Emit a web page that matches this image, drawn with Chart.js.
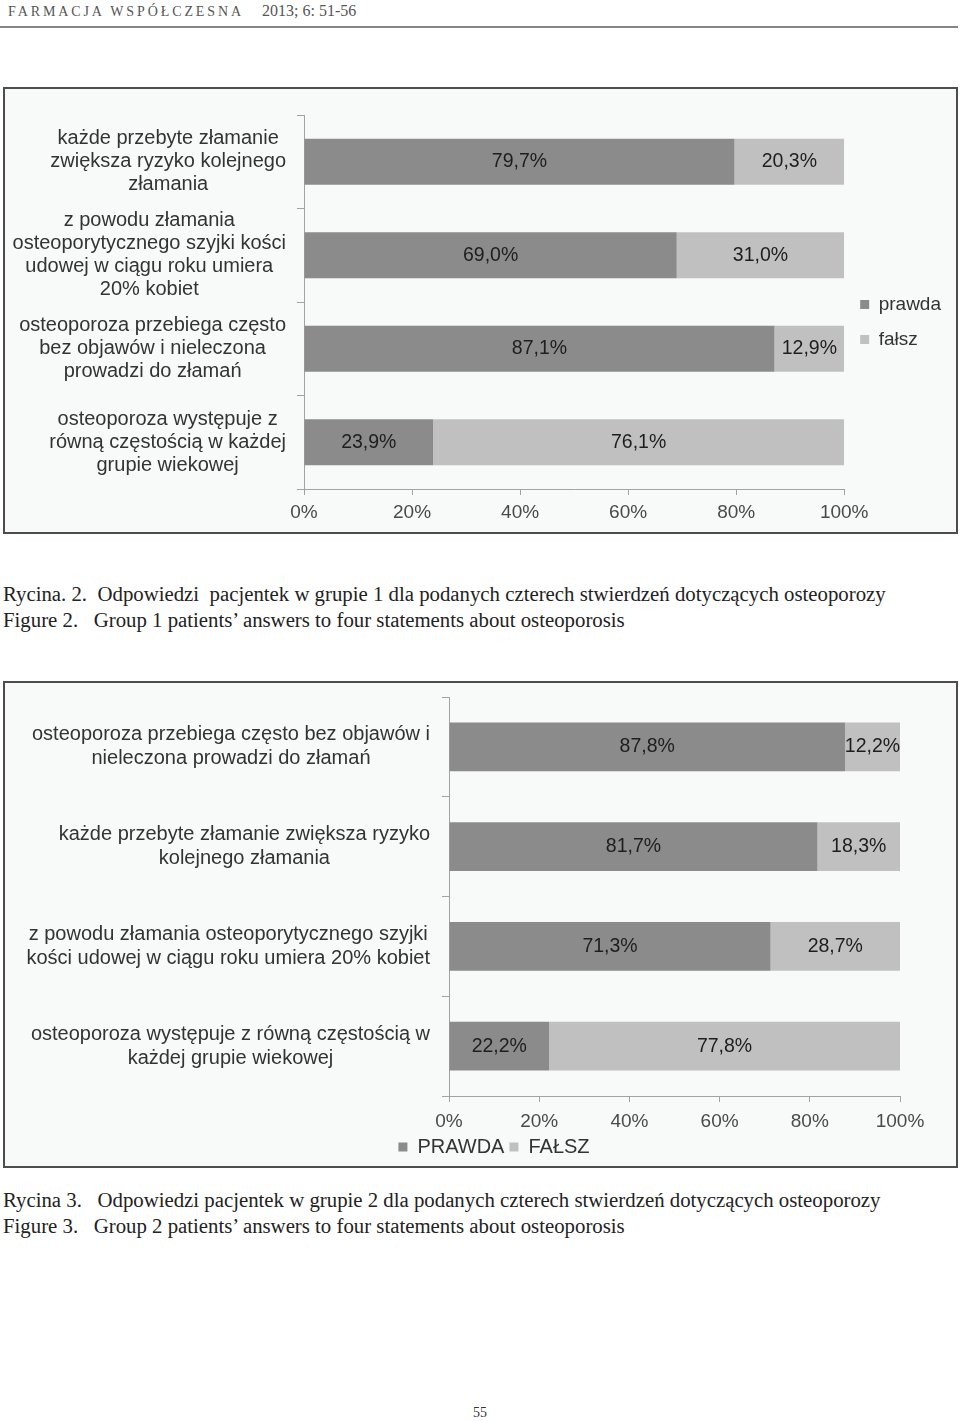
<!DOCTYPE html>
<html lang="pl">
<head>
<meta charset="utf-8">
<script src="https://cdn.jsdelivr.net/npm/chart.js@4.4.0/dist/chart.umd.min.js"></script>
<style>
  body { margin: 0; width: 960px; height: 1421px; background: #fff; position: relative; font-family: "Liberation Serif", "DejaVu Serif", serif; }
  .header { position: absolute; left: 8px; top: 2px; font-size: 16px; color: #555; white-space: pre; }
  .header .caps { letter-spacing: 2.9px; font-size: 14px; margin-right: 18px; }
  .rule { position: absolute; left: 0; top: 26px; width: 958px; height: 2px; background: #858585; }
  .box { position: absolute; left: 3px; width: 955px; box-sizing: border-box; border: 2px solid #4d4d4d; background: #f8f9f9; }
  .box .wrap { position: relative; width: 951px; }
  .cap { position: absolute; left: 3px; font-size: 20.8px; color: #222; white-space: pre; line-height: 1; }
  .page { position: absolute; left: 0; width: 960px; top: 1405px; text-align: center; font-size: 14px; color: #333; }
</style>
</head>
<body>
<div class="header"><span class="caps">FARMACJA WSPÓŁCZESNA</span>2013; 6: 51-56</div>
<div class="rule"></div>

<div class="box" style="top:87px;height:447px;"><div class="wrap" style="height:443px;"><canvas id="group1Chart"></canvas></div></div>
<div class="cap" style="top:584px;">Rycina. 2.  Odpowiedzi  pacjentek w grupie 1 dla podanych czterech stwierdzeń dotyczących osteoporozy</div>
<div class="cap" style="top:610px;">Figure 2.   Group 1 patients’ answers to four statements about osteoporosis</div>

<div class="box" style="top:681px;height:487px;"><div class="wrap" style="height:483px;"><canvas id="group2Chart"></canvas></div></div>
<div class="cap" style="top:1190px;">Rycina 3.   Odpowiedzi pacjentek w grupie 2 dla podanych czterech stwierdzeń dotyczących osteoporozy</div>
<div class="cap" style="top:1216px;">Figure 3.   Group 2 patients’ answers to four statements about osteoporosis</div>

<div class="page">55</div>

<script>
// group 1 (Rycina 2)
const group1Labels = [
    ["każde przebyte złamanie", "zwiększa ryzyko kolejnego", "złamania"],
    ["z powodu złamania", "osteoporytycznego szyjki kości", "udowej w ciągu roku umiera", "20% kobiet"],
    ["osteoporoza przebiega często", "bez objawów i nieleczona", "prowadzi do złamań"],
    ["osteoporoza występuje z", "równą częstością w każdej", "grupie wiekowej"],
];
const group1True = [79.7, 69.0, 87.1, 23.9];
const group1False = [20.3, 31.0, 12.9, 76.1];
const group1Series = ["prawda", "fałsz"];

// group 2 (Rycina 3)
const group2Labels = [
    ["osteoporoza przebiega często bez objawów i", "nieleczona prowadzi do złamań"],
    ["każde przebyte złamanie zwiększa ryzyko", "kolejnego złamania"],
    ["z powodu złamania osteoporytycznego szyjki", "kości udowej w ciągu roku umiera 20% kobiet"],
    ["osteoporoza występuje z równą częstością w", "każdej grupie wiekowej"],
];
const group2True = [87.8, 81.7, 71.3, 22.2];
const group2False = [12.2, 18.3, 28.7, 77.8];
const group2Series = ["PRAWDA", "FAŁSZ"];

const percentTicks = ["0%", "20%", "40%", "60%", "80%", "100%"];

const COLORS = { dark: "#8b8b8b", light: "#c0c0c0", axis: "#a3a3a3", text: "#2b2b2b" };
const SANS = "'Liberation Sans', Arial, sans-serif";

Chart.defaults.font.family = SANS;
Chart.defaults.color = COLORS.text;

// value inside each bar segment, centred
const valueLabels = {
    id: "valueLabels",
    afterDatasetsDraw(chart) {
        const ctx = chart.ctx;
        ctx.save();
        ctx.font = "19.5px " + SANS;
        ctx.fillStyle = "#1e1e1e";
        ctx.textAlign = "center";
        ctx.textBaseline = "middle";
        chart.data.datasets.forEach((ds, di) => {
            chart.getDatasetMeta(di).data.forEach((bar, i) => {
                const { x, y, base } = bar.getProps(["x", "y", "base"], true);
                ctx.fillText(ds.data[i].toFixed(1).replace(".", ",") + "%", (x + base) / 2, y);
            });
        });
        ctx.restore();
    },
};

// multi-line category names, block right-aligned, lines centred (Excel style)
const categoryLabels = {
    id: "categoryLabels",
    afterDraw(chart, args, opts) {
        const scale = chart.scales.y;
        const ctx = chart.ctx;
        ctx.save();
        ctx.font = opts.font;
        ctx.fillStyle = "#333";
        ctx.textAlign = "center";
        ctx.textBaseline = "middle";
        chart.data.labels.forEach((lines, i) => {
            const w = Math.max(...lines.map((l) => ctx.measureText(l).width));
            const cx = scale.right - opts.gap - w / 2;
            const y0 = scale.getPixelForValue(i) - ((lines.length - 1) * opts.lineHeight) / 2;
            lines.forEach((l, j) => ctx.fillText(l, cx, y0 + j * opts.lineHeight));
        });
        ctx.restore();
    },
};

function makeChart(id, labels, trueVals, falseVals, series, cfg) {
    return new Chart(document.getElementById(id), {
        type: "bar",
        data: {
            labels: labels,
            datasets: [
                { label: series[0], data: trueVals, backgroundColor: COLORS.dark, borderWidth: 0, barPercentage: 0.49, categoryPercentage: 1 },
                { label: series[1], data: falseVals, backgroundColor: COLORS.light, borderWidth: 0, barPercentage: 0.49, categoryPercentage: 1 },
            ],
        },
        options: {
            indexAxis: "y",
            responsive: true,
            maintainAspectRatio: false,
            animation: false,
            layout: { padding: cfg.padding },
            plugins: {
                legend: {
                    position: cfg.legendPos,
                    labels: { boxWidth: 9, boxHeight: 9, padding: cfg.legendPad, color: "#333", font: { size: cfg.legendSize } },
                },
                tooltip: { enabled: false },
                categoryLabels: { font: "20px " + SANS, gap: cfg.labelGap, lineHeight: cfg.lineHeight },
            },
            scales: {
                x: {
                    stacked: true,
                    min: 0,
                    max: 100,
                    ticks: { stepSize: 20, padding: cfg.tickPad, color: "#4a4a4a", font: { size: 19 }, callback: (v, i) => percentTicks[i] },
                    grid: { drawOnChartArea: false, tickLength: 6, color: COLORS.axis },
                    border: { color: COLORS.axis },
                    afterFit: (scale) => { scale.height = cfg.xHeight; },
                },
                y: {
                    stacked: true,
                    ticks: { display: false },
                    grid: { drawOnChartArea: false, offset: true, tickLength: 7, color: COLORS.axis },
                    border: { color: COLORS.axis },
                    afterFit: (scale) => { scale.width = cfg.yWidth; },
                },
            },
        },
        plugins: [valueLabels, categoryLabels],
    });
}

makeChart("group1Chart", group1Labels, group1True, group1False, group1Series, {
    padding: { left: 0, top: 26, right: 5, bottom: 3 },
    legendPos: "right",
    legendPad: 16,
    legendSize: 19,
    yWidth: 299,
    xHeight: 40,
    tickPad: 6,
    labelGap: 18,
    lineHeight: 23,
});

makeChart("group2Chart", group2Labels, group2True, group2False, group2Series, {
    padding: { left: 83, top: 14, right: 56, bottom: -1 },
    legendPos: "bottom",
    legendPad: 5,
    legendSize: 20,
    yWidth: 361,
    xHeight: 36,
    tickPad: 8,
    labelGap: 19,
    lineHeight: 24,
});
</script>
</body>
</html>
